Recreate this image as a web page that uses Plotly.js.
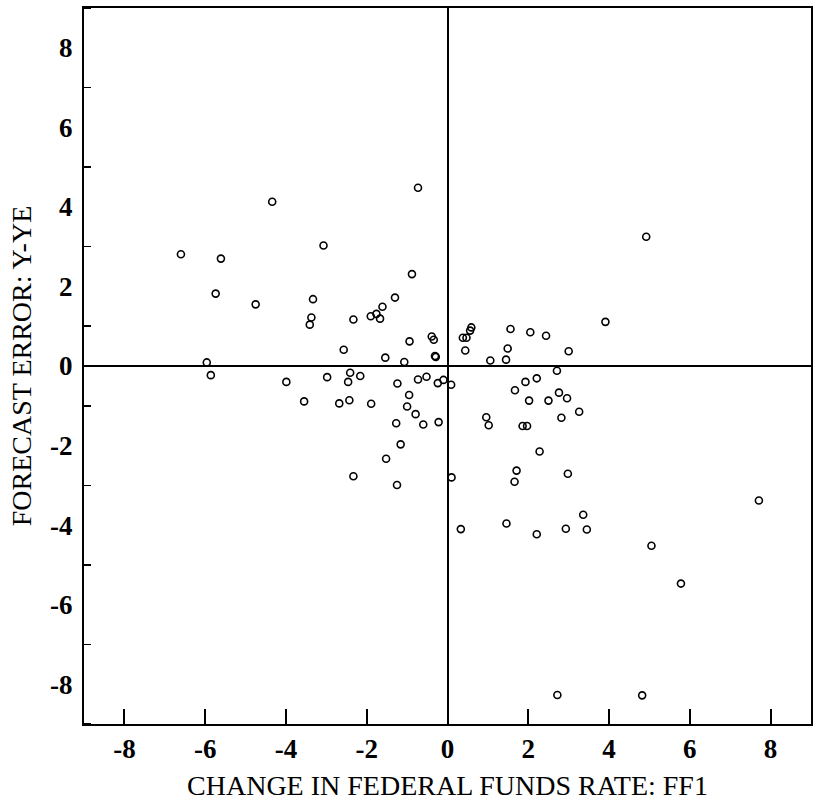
<!DOCTYPE html>
<html>
<head>
<meta charset="utf-8">
<script src="https://cdn.plot.ly/plotly-3.0.1.min.js"></script>
<style>html,body{margin:0;padding:0;background:#fff;}#chart{width:813px;height:808px;}</style>
</head>
<body>
<div id="chart"></div>
<script>
// Change in federal funds rate (FF1)
const ffChange = [-0.73,-4.34,-6.60,-5.61,-3.07,-0.88,-5.74,-4.75,-3.33,-1.30,
  -3.37,-3.41,-2.33,-1.90,-1.76,-1.61,-1.67,-0.39,-0.34,-0.94,
  -2.57,-1.54,-1.07,-0.31,-0.29,-5.96,4.92,3.91,1.56,2.05,
  2.44,0.59,0.56,0.38,0.47,0.44,1.49,3.00,1.06,1.45,
  -5.86,-3.99,-2.98,-2.41,-2.46,-2.16,-1.24,-0.73,-0.52,-0.24,
  -0.10,0.09,-0.95,-1.00,-0.79,-1.27,-0.60,-0.22,-1.16,-1.52,
  -2.33,-1.25,0.10,-3.55,-2.68,-2.43,-1.89,2.71,1.67,1.93,
  2.21,2.02,2.50,2.76,2.96,3.26,2.82,0.96,1.02,1.86,
  1.97,2.28,1.71,1.66,2.98,7.71,0.33,1.46,2.21,2.93,
  3.36,3.45,5.05,5.78,2.72,4.82];
// Forecast error (Y - YE)
const forecastError = [4.48,4.13,2.81,2.70,3.03,2.31,1.82,1.55,1.68,1.72,
  1.22,1.04,1.17,1.25,1.31,1.49,1.19,0.74,0.66,0.62,
  0.41,0.21,0.10,0.25,0.23,0.09,3.25,1.11,0.93,0.85,
  0.76,0.97,0.89,0.71,0.71,0.39,0.44,0.37,0.14,0.16,
  -0.23,-0.40,-0.28,-0.17,-0.40,-0.25,-0.44,-0.34,-0.27,-0.43,
  -0.35,-0.47,-0.73,-1.02,-1.21,-1.44,-1.47,-1.41,-1.97,-2.33,
  -2.77,-2.99,-2.80,-0.89,-0.94,-0.86,-0.95,-0.12,-0.61,-0.40,
  -0.31,-0.87,-0.87,-0.67,-0.81,-1.15,-1.30,-1.29,-1.49,-1.51,
  -1.51,-2.15,-2.63,-2.91,-2.71,-3.38,-4.10,-3.96,-4.23,-4.09,
  -3.74,-4.11,-4.52,-5.47,-8.27,-8.28];

const xTickVals = [-8,-6,-4,-2,0,2,4,6,8];
const xTickText = ['-8','-6','-4','-2','0','2','4','6','8'];
const yTickVals = [-8,-6,-4,-2,0,2,4,6,8];
const yTickText = ['-8','-6','-4','-2','0','2','4','6','8'];
const xTitle = 'CHANGE IN FEDERAL FUNDS RATE: FF1';
const yTitle = 'FORECAST ERROR: Y-YE';

const serif = '"Liberation Serif", "DejaVu Serif", serif';

const trace = {
  x: ffChange, y: forecastError,
  type: 'scatter', mode: 'markers',
  marker: {symbol: 'circle-open', size: 7, color: '#000', line: {width: 1.6, color: '#000'}},
  hoverinfo: 'skip', showlegend: false
};

const layout = {
  width: 813, height: 808,
  margin: {l: 84, r: 2, t: 8, b: 84},
  paper_bgcolor: '#fff', plot_bgcolor: '#fff',
  font: {family: serif, color: '#000'},
  showlegend: false,
  xaxis: {
    range: [-9, 9], tickmode: 'array', tickvals: xTickVals, ticktext: xTickText,
    ticks: 'inside', ticklen: 15, tickwidth: 2, tickcolor: '#000',
    showline: true, linecolor: '#000', linewidth: 2, mirror: true,
    showgrid: false, zeroline: true, zerolinecolor: '#000', zerolinewidth: 2,
    tickfont: {family: serif, size: 27, weight: 'bold', color: '#000'},
    ticklabelstandoff: 0,
    title: {text: xTitle, font: {family: serif, size: 28, color: '#000'}, standoff: 12},
    automargin: false
  },
  yaxis: {
    range: [-9, 9], tickmode: 'array', tickvals: yTickVals, ticktext: yTickText,
    ticks: '',
    minor: {ticks: 'inside', ticklen: 7, tickwidth: 1.5, tickcolor: '#000', tick0: 1, dtick: 2, showgrid: false},
    showline: true, linecolor: '#000', linewidth: 2, mirror: true,
    showgrid: false, zeroline: true, zerolinecolor: '#000', zerolinewidth: 2,
    tickfont: {family: serif, size: 27, weight: 'bold', color: '#000'},
    ticklabelstandoff: 4,
    title: {text: yTitle, font: {family: serif, size: 28, color: '#000'}, standoff: 10},
    automargin: false
  }
};

Plotly.newPlot('chart', [trace], layout, {displayModeBar: false, staticPlot: true});
</script>
</body>
</html>
